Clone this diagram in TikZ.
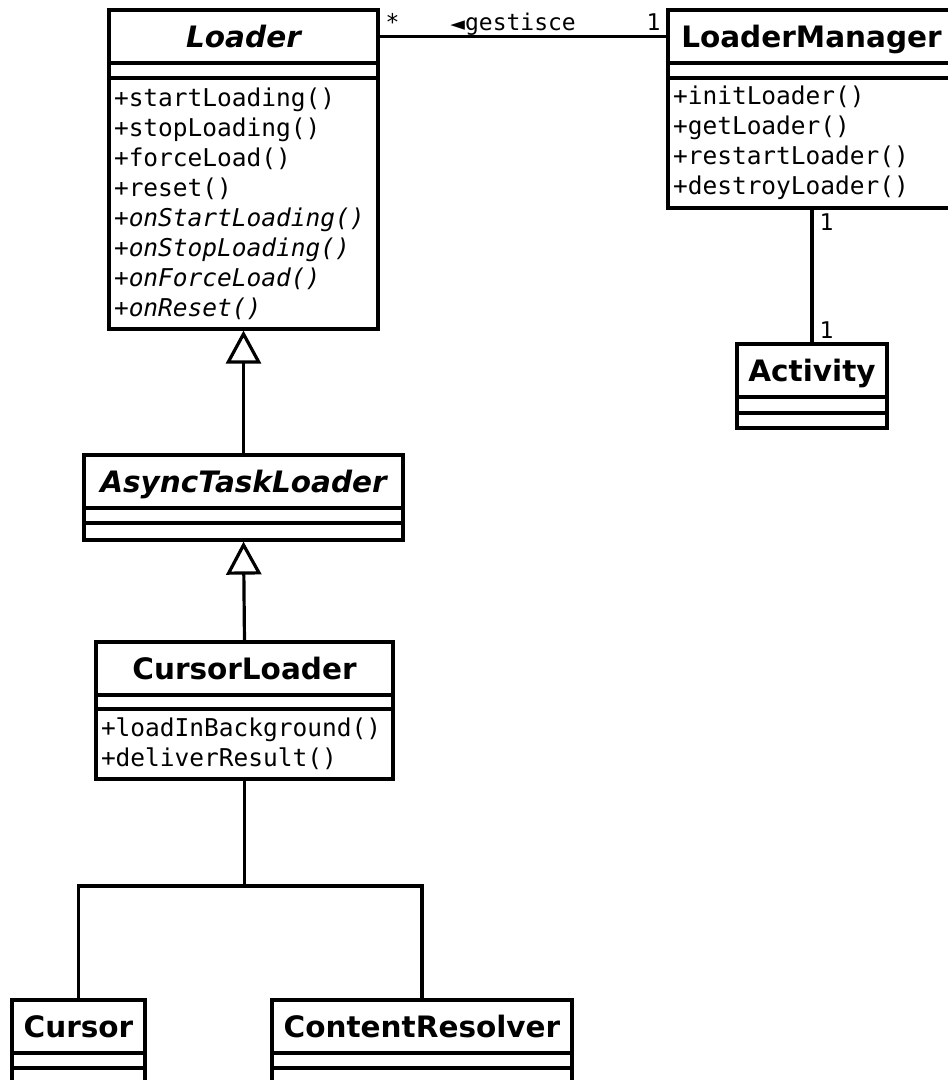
\documentclass[tikz,border=0pt]{standalone}
\usepackage{fontspec}
\setmainfont{DejaVu Sans}
\setmonofont{DejaVu Sans Mono}
\newfontfamily\symfont{DejaVu Sans}
\usetikzlibrary{positioning}
\usetikzlibrary{arrows.meta}
\newcommand{\titlefont}{\fontsize{29.5}{32}\selectfont\bfseries}
\newcommand{\opfont}{\fontsize{24.5}{30}\selectfont\ttfamily}
\newcommand{\multfont}{\fontsize{23}{26}\selectfont\ttfamily}
\tikzset{
    classname/.style = {rectangle,draw,line width=3.2pt,inner sep=0pt,outer sep=0pt,minimum height=53pt,text height=21.5pt,text depth=0pt,font=\titlefont},
    attrs/.style = {rectangle,draw,line width=3.2pt,inner sep=0pt,outer sep=0pt,minimum height=15pt},
    opers/.style = {rectangle,draw,line width=3.2pt,inner xsep=5pt,inner ysep=0pt,outer sep=0pt,align=left,font=\opfont},
    assoc/.style = {line width=3.2pt},
    inherit/.style = {line width=3.2pt,shorten >=1.6pt,-{Triangle[open,length=33pt,width=35pt]}},
    mult/.style = {font=\multfont,inner xsep=6pt,inner ysep=4pt,text depth=0pt}}
\begin{document}
\begin{tikzpicture}[x=1pt,y=-1pt]
    \useasboundingbox (0,0) rectangle (948,1080);
    \node[classname,minimum width=269pt,anchor=north west] (LoaderName) at (109,10) {\itshape Loader};
    \node[attrs,minimum width=269pt,below=0pt of LoaderName] (LoaderAttrs) {};
    \node[opers,text width=259pt,minimum height=251pt,below=0pt of LoaderAttrs] (LoaderOps)
        {+startLoading()\\+stopLoading()\\+forceLoad()\\+reset()\\\itshape +onStartLoading()\\+onStopLoading()\\+onForceLoad()\\+onReset()};
    \node[classname,minimum width=287pt,anchor=north west] (ManagerName) at (668,10) {LoaderManager};
    \node[attrs,minimum width=287pt,below=0pt of ManagerName] (ManagerAttrs) {};
    \node[opers,text width=277pt,minimum height=130pt,below=0pt of ManagerAttrs] (ManagerOps)
        {+initLoader()\\+getLoader()\\+restartLoader()\\+destroyLoader()};
    \node[classname,minimum width=150pt,anchor=north west] (ActivityName) at (737,344) {Activity};
    \node[attrs,minimum width=150pt,minimum height=16pt,below=0pt of ActivityName] (ActivityAttrs) {};
    \node[attrs,minimum width=150pt,below=0pt of ActivityAttrs] (ActivityOps) {};
    \node[classname,minimum width=319pt,anchor=north west] (AsyncName) at (84,455) {\itshape AsyncTaskLoader};
    \node[attrs,minimum width=319pt,below=0pt of AsyncName] (AsyncAttrs) {};
    \node[attrs,minimum width=319pt,minimum height=17pt,below=0pt of AsyncAttrs] (AsyncOps) {};
    \node[classname,minimum width=297pt,anchor=north west] (CLoaderName) at (96,642) {CursorLoader};
    \node[attrs,minimum width=297pt,minimum height=14pt,below=0pt of CLoaderName] (CLoaderAttrs) {};
    \node[opers,text width=287pt,minimum height=70pt,below=0pt of CLoaderAttrs] (CLoaderOps)
        {+loadInBackground()\\+deliverResult()};
    \node[classname,minimum width=133pt,anchor=north west] (CursorName) at (12,1000) {Cursor};
    \node[attrs,minimum width=133pt,below=0pt of CursorName] (CursorAttrs) {};
    \node[attrs,minimum width=133pt,minimum height=20pt,below=0pt of CursorAttrs] (CursorOps) {};
    \node[classname,minimum width=300pt,anchor=north west] (ResolverName) at (272,1000) {ContentResolver};
    \node[attrs,minimum width=300pt,below=0pt of ResolverName] (ResolverAttrs) {};
    \node[attrs,minimum width=300pt,minimum height=20pt,below=0pt of ResolverAttrs] (ResolverOps) {};
    \draw[assoc] (LoaderName.east) -- node[mult,pos=0,above right] {*}
        node[mult,pos=0.466,above] {{\symfont\fontsize{19}{26}\selectfont ◄}gestisce}
        node[mult,pos=1,above left] {1} (ManagerName.west);
    \draw[assoc] (ManagerOps.south -| ActivityName.north) -- node[mult,pos=0,below right] {1}
        node[mult,pos=1,above right] {1} (ActivityName.north);
    \draw[inherit] (AsyncName.north) -- (LoaderOps.south);
    \draw[inherit] (CLoaderName.north) -- (AsyncOps.south);
    \coordinate (fork) at (CLoaderOps.south |- 0,886);
    \draw[assoc] (CLoaderOps.south) -- (fork) -| (CursorName.north);
    \draw[assoc] (fork) -| (ResolverName.north);
\end{tikzpicture}
\end{document}
